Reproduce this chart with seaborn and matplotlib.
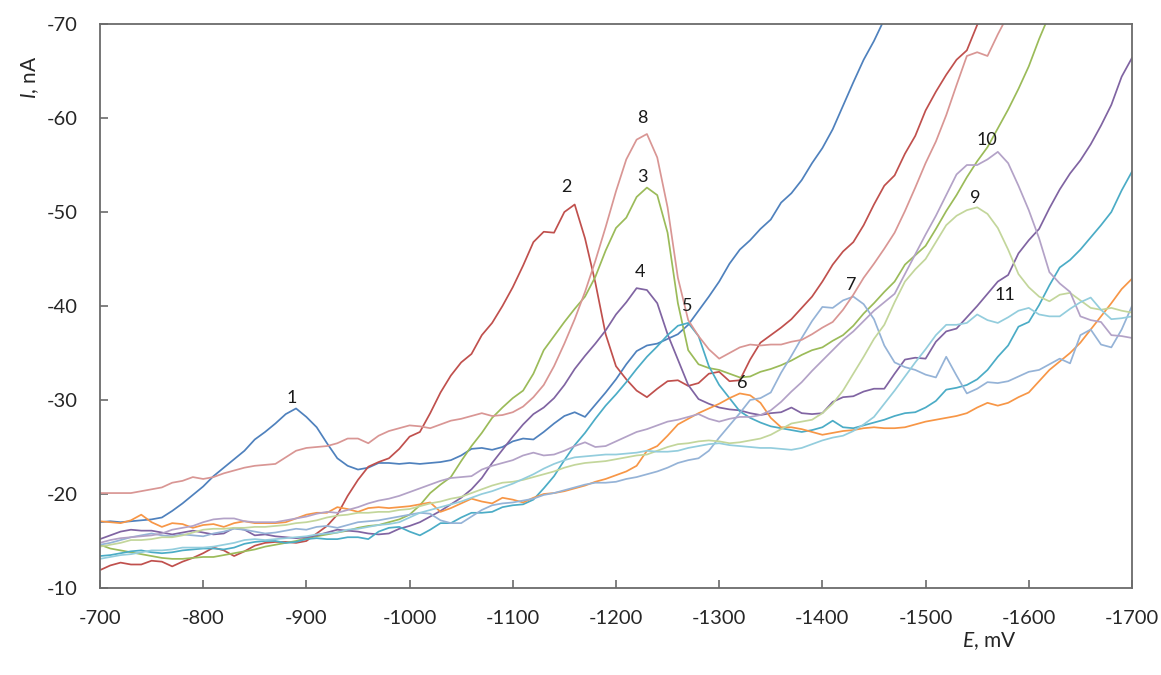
import numpy as np
import pandas as pd
import matplotlib
matplotlib.use("Agg")
import matplotlib.pyplot as plt
import seaborn as sns

# Electrode potential grid, mV (10 mV step)
potential = np.arange(-700, -1701, -10)

# Current, nA, for each voltammogram (values until the trace leaves the plot)
curve_1 = [
    -17.0, -17.1, -17.0, -17.1, -17.2, -17.3, -17.5, -18.2, -19.0, -19.9,
    -20.8, -21.9, -22.8, -23.7, -24.6, -25.8, -26.6, -27.5, -28.5, -29.1,
    -28.2, -27.1, -25.4, -23.8, -23.0, -22.6, -22.8, -23.3, -23.3, -23.2,
    -23.3, -23.2, -23.3, -23.4, -23.6, -24.1, -24.8, -24.9, -24.7, -25.0,
    -25.6, -25.9, -25.8, -26.6, -27.5, -28.3, -28.7, -28.2, -29.5, -30.8,
    -32.2, -33.8, -35.2, -35.8, -36.0, -36.5, -37.0, -38.0, -39.5, -41.0,
    -42.6, -44.5, -46.0, -47.0, -48.2, -49.2, -51.0, -52.0, -53.4, -55.2,
    -56.8, -58.8, -61.3, -63.8, -66.2, -68.2, -70.5,
]
curve_2 = [
    -11.9, -12.4, -12.7, -12.5, -12.5, -12.9, -12.8, -12.3, -12.8, -13.2,
    -13.7, -14.3, -14.0, -13.4, -13.9, -14.5, -14.8, -14.9, -14.9, -14.8,
    -15.0, -15.8, -16.6, -17.8, -19.8, -21.5, -22.9, -23.4, -23.8, -24.8,
    -26.1, -26.6, -28.6, -30.8, -32.6, -34.0, -34.9, -36.9, -38.2, -40.0,
    -42.0, -44.3, -46.8, -47.9, -47.8, -50.0, -50.8, -47.2, -42.5, -37.0,
    -33.6, -32.2, -31.0, -30.3, -31.2, -32.0, -32.1, -31.5, -31.8, -32.8,
    -33.0, -32.0, -32.1, -34.3, -36.1, -36.9, -37.7, -38.6, -39.8, -41.0,
    -42.6, -44.4, -45.8, -46.8, -48.6, -50.8, -52.8, -53.9, -56.2, -58.1,
    -60.8, -62.8, -64.6, -66.2, -67.2, -69.9, -72.0,
]
curve_3 = [
    -14.6, -14.2, -14.0, -13.8, -13.6, -13.4, -13.2, -13.1, -13.1, -13.2,
    -13.3, -13.3, -13.5, -13.7, -13.9, -14.1, -14.4, -14.6, -14.8, -15.0,
    -15.3, -15.5, -15.7, -15.9, -16.1, -16.4, -16.6, -16.7, -17.0, -17.3,
    -17.8, -18.8, -20.1, -21.0, -21.8, -23.5, -25.1, -26.5, -28.1, -29.2,
    -30.2, -31.0, -32.8, -35.3, -36.8, -38.3, -39.7, -41.0, -43.1, -45.9,
    -48.3, -49.4, -51.6, -52.6, -51.8, -47.8, -40.3, -35.3, -33.8, -33.4,
    -33.2, -32.8, -32.4, -32.5, -33.0, -33.3, -33.7, -34.2, -34.8, -35.3,
    -35.6, -36.3, -36.9, -37.9, -39.2, -40.3, -41.5, -42.6, -44.4, -45.4,
    -46.4, -48.2, -50.1, -51.8, -53.7, -55.4, -56.9, -58.9, -60.9, -63.1,
    -65.5, -68.4, -71.0,
]
curve_4 = [
    -15.2, -15.6, -16.0, -16.2, -16.1, -16.1, -15.9, -15.7, -15.9, -16.1,
    -15.9, -15.7, -15.8, -16.4, -16.2, -15.6, -15.7, -15.5, -15.4, -15.3,
    -15.4, -15.6, -15.9, -16.2, -16.1, -16.0, -15.8, -15.7, -15.8, -16.3,
    -16.6, -17.0, -17.6, -18.2, -18.9, -19.6, -20.5, -21.7, -23.3, -24.7,
    -26.1, -27.4, -28.5, -29.2, -30.2, -31.6, -33.3, -34.7, -36.0, -37.4,
    -39.1, -40.4, -41.9, -41.7, -40.3, -37.0, -34.3, -31.6, -30.1, -29.6,
    -29.2, -29.0, -28.9, -28.6, -28.4, -28.6, -28.7, -29.2, -28.6, -28.5,
    -28.6, -29.8, -30.3, -30.4, -30.9, -31.2, -31.2, -32.8, -34.3, -34.5,
    -34.4, -36.2, -37.3, -37.6, -38.8, -40.0, -41.3, -42.6, -43.3, -45.6,
    -47.0, -48.2, -50.4, -52.4, -54.1, -55.5, -57.2, -59.2, -61.4, -64.4,
    -66.4,
]
curve_5 = [
    -13.4, -13.5, -13.7, -13.9, -14.0, -13.8, -13.7, -13.8, -14.0, -14.1,
    -14.2, -14.2, -14.1, -14.3, -14.7, -14.9, -15.0, -15.0, -14.8, -14.9,
    -15.2, -15.3, -15.2, -15.2, -15.4, -15.4, -15.2, -16.0, -16.4, -16.5,
    -16.0, -15.6, -16.2, -16.9, -16.9, -17.5, -18.0, -18.0, -18.1, -18.6,
    -18.8, -18.9, -19.4, -20.6, -21.9, -23.6, -25.2, -26.5, -28.0, -29.4,
    -30.6, -31.9, -33.3, -34.6, -35.7, -36.9, -37.9, -38.2, -36.8, -33.6,
    -31.6, -30.2, -28.8, -28.1, -27.6, -27.2, -27.0, -26.8, -26.6, -26.8,
    -27.1, -27.8, -27.1, -27.0, -27.3, -27.6, -27.9, -28.3, -28.6, -28.7,
    -29.2, -29.9, -31.1, -31.3, -31.6, -32.2, -33.2, -34.6, -35.8, -37.8,
    -38.3, -40.1, -42.2, -44.1, -44.9, -46.0, -47.3, -48.6, -50.0, -52.3,
    -54.3,
]
curve_6 = [
    -17.1, -17.0, -16.9, -17.2, -17.8, -17.0, -16.5, -16.9, -16.8, -16.4,
    -16.7, -16.8, -16.5, -16.9, -17.1, -16.9, -16.9, -16.9, -17.0, -17.4,
    -17.8, -18.0, -18.0, -18.6, -18.4, -18.1, -18.5, -18.6, -18.5, -18.6,
    -18.7, -18.9, -19.1, -18.1, -18.5, -19.0, -19.5, -19.2, -19.0, -19.6,
    -19.4, -19.1, -19.6, -20.0, -20.1, -20.3, -20.6, -20.9, -21.3, -21.6,
    -22.0, -22.4, -23.0, -24.6, -25.1, -26.2, -27.4, -28.0, -28.6, -29.1,
    -29.6, -30.2, -30.7, -30.5, -29.7, -28.1, -27.1, -27.1, -26.9, -26.6,
    -26.3, -26.5, -26.7, -26.8, -27.0, -27.1, -27.0, -27.0, -27.1, -27.4,
    -27.7, -27.9, -28.1, -28.3, -28.6, -29.2, -29.7, -29.4, -29.7, -30.3,
    -30.8, -32.0, -33.2, -34.1, -35.0, -36.1, -37.5, -38.9, -40.3, -41.8,
    -42.9,
]
curve_7 = [
    -14.6, -14.8, -15.1, -15.4, -15.6, -15.8, -15.6, -15.5, -15.7, -15.6,
    -15.5, -15.8, -16.0, -16.3, -16.2, -16.0, -15.8, -15.9, -16.1, -16.3,
    -16.2, -16.5, -16.6, -16.4, -16.7, -17.0, -17.1, -17.2, -17.4, -17.6,
    -17.8, -18.0, -17.9, -17.2, -16.9, -16.9, -17.6, -18.3, -18.8, -19.0,
    -19.1, -19.3, -19.5, -19.9, -20.1, -20.4, -20.7, -21.0, -21.2, -21.2,
    -21.3, -21.6, -21.8, -22.1, -22.4, -22.8, -23.3, -23.6, -23.8, -24.6,
    -26.0, -27.3, -28.6, -30.0, -30.2, -30.8, -32.9, -34.7, -36.6, -38.4,
    -39.9, -39.8, -40.6, -41.0, -40.2, -38.6, -35.8, -34.0, -33.5, -33.2,
    -32.7, -32.4, -34.6, -32.6, -30.7, -31.2, -31.9, -31.8, -32.0, -32.5,
    -33.0, -33.2, -33.8, -34.4, -33.9, -36.9, -37.5, -35.9, -35.6, -37.5,
    -40.0,
]
curve_8 = [
    -20.1, -20.1, -20.1, -20.1, -20.3, -20.5, -20.7, -21.2, -21.4, -21.8,
    -21.6, -21.8, -22.2, -22.5, -22.8, -23.0, -23.1, -23.2, -23.9, -24.6,
    -24.9, -25.0, -25.1, -25.4, -25.9, -25.9, -25.4, -26.2, -26.7, -27.0,
    -27.3, -27.2, -27.0, -27.4, -27.8, -28.0, -28.3, -28.6, -28.3, -28.4,
    -28.7, -29.3, -30.3, -31.6, -33.6, -36.0, -38.6, -41.5, -44.8, -48.4,
    -52.2, -55.6, -57.7, -58.3, -55.8, -50.5, -43.0, -38.5, -36.8, -35.4,
    -34.4, -35.0, -35.6, -35.9, -35.8, -35.9, -35.9, -36.2, -36.4, -37.0,
    -37.7, -38.3, -39.6, -41.2, -43.0, -44.5, -46.1, -47.8, -50.1, -52.6,
    -55.2, -57.5, -60.3, -63.5, -66.6, -67.0, -66.6, -68.9, -71.0,
]
curve_9 = [
    -14.4, -14.6, -14.8, -15.1, -15.1, -15.2, -15.4, -15.4, -15.6, -15.9,
    -16.2, -16.3, -16.3, -16.4, -16.4, -16.5, -16.5, -16.6, -16.7, -16.9,
    -17.0, -17.2, -17.5, -17.7, -17.8, -18.0, -18.0, -18.1, -18.1, -18.3,
    -18.4, -18.7, -19.0, -19.2, -19.5, -19.7, -20.1, -20.5, -20.9, -21.2,
    -21.3, -21.5, -21.8, -22.1, -22.4, -22.8, -23.1, -23.3, -23.4, -23.5,
    -23.7, -23.9, -24.1, -24.2, -24.6, -25.0, -25.3, -25.4, -25.6, -25.7,
    -25.6, -25.4, -25.5, -25.7, -25.9, -26.3, -26.9, -27.5, -27.7, -27.9,
    -28.6, -29.6, -31.0, -32.8, -34.6, -36.5, -38.0, -40.4, -42.6, -43.9,
    -45.0, -46.8, -48.6, -49.6, -50.2, -50.5, -49.8, -48.3, -46.0, -43.4,
    -42.0, -41.0, -40.5, -41.2, -41.4, -40.6, -39.8, -39.6, -39.8, -39.5,
    -39.3,
]
curve_10 = [
    -14.8, -15.1, -15.3, -15.4, -15.5, -15.6, -15.8, -16.2, -16.4, -16.6,
    -17.0, -17.3, -17.4, -17.4, -17.1, -17.0, -17.0, -17.0, -17.2, -17.4,
    -17.6, -17.9, -18.1, -18.0, -18.3, -18.6, -19.0, -19.3, -19.5, -19.8,
    -20.2, -20.6, -21.0, -21.4, -21.7, -21.8, -21.9, -22.6, -23.0, -23.3,
    -23.6, -24.1, -24.4, -24.1, -24.2, -24.6, -25.1, -25.5, -25.0, -25.1,
    -25.6, -26.1, -26.6, -26.9, -27.3, -27.7, -27.9, -28.2, -28.5, -28.0,
    -27.7, -28.0, -28.2, -28.2, -28.4, -28.9, -29.8, -30.9, -31.9, -33.1,
    -34.2, -35.3, -36.4, -37.3, -38.4, -39.5, -40.4, -41.3, -43.4, -45.5,
    -47.6, -49.6, -51.8, -54.0, -55.0, -55.0, -55.6, -56.4, -55.2, -52.8,
    -50.2, -47.2, -43.6, -42.4, -41.5, -38.9, -38.5, -38.3, -36.9, -36.8,
    -36.6,
]
curve_11 = [
    -13.1, -13.3, -13.5, -13.6, -13.8, -14.0, -14.0, -14.1, -14.3, -14.3,
    -14.3, -14.4, -14.6, -14.8, -15.1, -15.2, -15.1, -15.2, -15.3, -15.4,
    -15.5, -15.7, -15.8, -15.9, -16.2, -16.3, -16.5, -16.7, -16.8, -17.0,
    -17.5, -18.0, -18.3, -18.6, -18.9, -19.2, -19.6, -20.0, -20.3, -20.7,
    -21.1, -21.6, -22.1, -22.7, -23.2, -23.6, -23.9, -24.0, -24.1, -24.2,
    -24.2, -24.3, -24.4, -24.6, -24.5, -24.5, -24.6, -24.9, -25.1, -25.3,
    -25.4, -25.2, -25.1, -25.0, -24.9, -24.9, -24.8, -24.7, -24.9, -25.3,
    -25.7, -26.0, -26.2, -26.7, -27.4, -28.2, -29.6, -31.0, -32.5, -34.0,
    -35.4, -36.9, -38.0, -38.0, -38.2, -39.1, -38.5, -38.2, -38.8, -39.5,
    -39.8, -39.1, -38.9, -38.9, -39.7, -40.4, -40.9, -39.6, -38.6, -38.7,
    -38.9,
]

curve_names = ["1", "2", "3", "4", "5", "6", "7", "8", "9", "10", "11"]
curve_values = [curve_1, curve_2, curve_3, curve_4, curve_5, curve_6,
                curve_7, curve_8, curve_9, curve_10, curve_11]

# Curve number labels placed above each wave (E, I)
label_E = [-886, -1152, -1226, -1223, -1269, -1322, -1428, -1226, -1548, -1559, -1577]
label_I = [-30.2, -52.7, -53.7, -43.6, -40.0, -31.8, -42.2, -60.0, -51.5, -57.7, -41.2]

colors = ["#4F81BD", "#C0504D", "#9BBB59", "#8064A2", "#4BACC6", "#F79646",
          "#95B3D7", "#D99694", "#C3D69B", "#B3A2C7", "#93CDDD"]

frames = []
for name, vals in zip(curve_names, curve_values):
    frames.append(pd.DataFrame({"E": potential[:len(vals)], "I": vals, "curve": name}))
df = pd.concat(frames, ignore_index=True)

sns.set_theme(style="white")
plt.rcParams["font.family"] = ["Lato", "DejaVu Sans"]
plt.rcParams["axes.unicode_minus"] = False
plt.rcParams["mathtext.fontset"] = "custom"
plt.rcParams["mathtext.rm"] = "Lato"
plt.rcParams["mathtext.it"] = "Lato:italic"

fig = plt.figure(figsize=(11.61, 6.75), dpi=100)
ax = fig.add_axes([0.0861, 0.1289, 0.8889, 0.8355])

sns.lineplot(data=df, x="E", y="I", hue="curve", hue_order=curve_names,
             palette=colors, estimator=None, sort=False, legend=False,
             linewidth=1.25, ax=ax)

ax.set_xlim(-700, -1700)
ax.set_ylim(-10, -70)
ax.set_xticks(np.arange(-700, -1701, -100))
ax.set_yticks(np.arange(-10, -71, -10))
ax.set_xlabel("")
ax.set_ylabel("")

spine_color = "#6b6b6b"
for sp in ax.spines.values():
    sp.set_visible(True)
    sp.set_color(spine_color)
    sp.set_linewidth(1.3)

ax.tick_params(axis="both", direction="in", length=6, width=1.2,
               color=spine_color, labelcolor="#262626", labelsize=14.5)
ax.tick_params(axis="x", pad=16, bottom=True)
ax.tick_params(axis="y", pad=16, left=True)

for txt, x, y in zip(curve_names, label_E, label_I):
    ax.text(x, y, txt, ha="center", va="center", fontsize=13, color="#1a1a1a")

ax.text(-0.068, 0.906, r"$I$, nA", rotation=90, transform=ax.transAxes,
        ha="center", va="center", fontsize=15, color="#262626")
ax.text(0.862, -0.095, r"$E$, mV", transform=ax.transAxes,
        ha="center", va="center", fontsize=15, color="#262626")

fig.savefig("out.png", dpi=100)
